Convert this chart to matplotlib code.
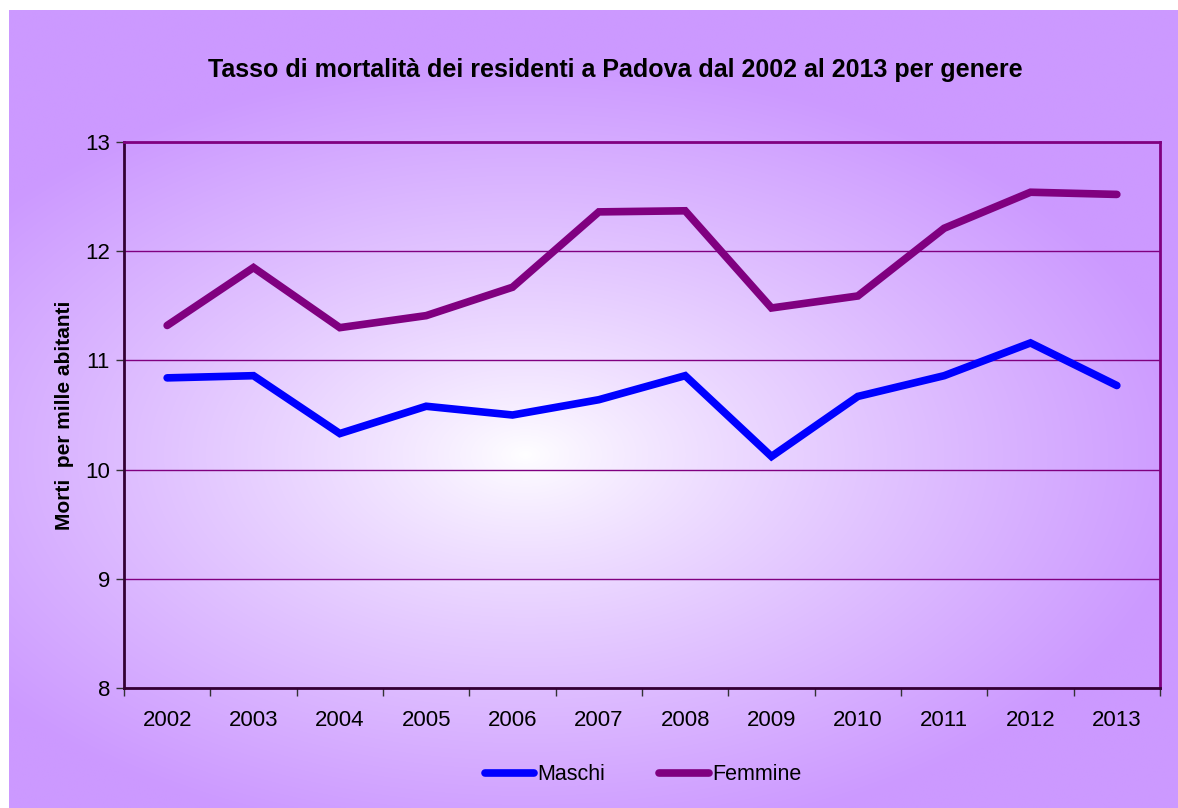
import numpy as np
import matplotlib.pyplot as plt
from matplotlib.lines import Line2D

years = ['2002', '2003', '2004', '2005', '2006', '2007',
         '2008', '2009', '2010', '2011', '2012', '2013']
maschi = [10.84, 10.86, 10.33, 10.58, 10.50, 10.64,
          10.86, 10.12, 10.67, 10.86, 11.16, 10.77]
femmine = [11.32, 11.85, 11.30, 11.41, 11.67, 12.36,
           12.37, 11.48, 11.59, 12.21, 12.54, 12.52]

plt.rcParams['font.family'] = ['Liberation Sans', 'DejaVu Sans']

W, H = 1178, 808
fig = plt.figure(figsize=(W / 100, H / 100), dpi=100)
fig.patch.set_facecolor('white')

# gradient background of the chart area
bg = fig.add_axes([9 / W, 0, 1 - 9 / W, 1 - 10 / H])
yy, xx = np.mgrid[0:H, 0:W]
cx, cy = 520, 450
d = np.sqrt(((xx - cx) / 680.0) ** 2 + ((yy - cy) / 400.0) ** 2)
d = np.clip(d, 0, 1) ** 0.85
inner = np.array([255, 255, 255]) / 255.0
outer = np.array([204, 153, 255]) / 255.0
img = inner[None, None, :] * (1 - d[..., None]) + outer[None, None, :] * d[..., None]
bg.imshow(img, aspect='auto', extent=[0, W, H, 0])
bg.axis('off')

# plot area
x0, x1, y0, y1 = 124, 1160, 142, 688
ax = fig.add_axes([x0 / W, 1 - y1 / H, (x1 - x0) / W, (y1 - y0) / H])
ax.patch.set_alpha(0)

x = np.arange(len(years))
ax.plot(x, maschi, color='#0000FF', lw=5.5, solid_capstyle='round', solid_joinstyle='miter')
ax.plot(x, femmine, color='#800080', lw=5.5, solid_capstyle='round', solid_joinstyle='miter')

ax.set_xlim(-0.5, len(years) - 0.5)
ax.set_ylim(8, 13)
ax.set_yticks([8, 9, 10, 11, 12, 13])
ax.set_xticks(x)
ax.set_xticklabels(years)
ax.set_xticks(np.arange(-0.5, len(years)), minor=True)
ax.tick_params(axis='x', which='major', length=0, pad=16, labelsize=16)
ax.tick_params(axis='x', which='minor', length=6, width=1, color='#333333', direction='out')
ax.tick_params(axis='y', length=6, width=1, color='#333333', labelsize=16, pad=4)
ax.grid(axis='y', color='#800080', lw=1)

for s in ['left', 'bottom']:
    ax.spines[s].set_color('#330033')
    ax.spines[s].set_linewidth(2)
for s in ['top', 'right']:
    ax.spines[s].set_color('#800080')
    ax.spines[s].set_linewidth(2)

ax.set_ylabel('Morti  per mille abitanti', fontsize=15, fontweight='bold', labelpad=8)

fig.text(615 / W, 1 - 70 / H, 'Tasso di mortalità dei residenti a Padova dal 2002 al 2013 per genere',
         ha='center', va='center', fontsize=18, fontweight='bold')

handles = [Line2D([], [], color='#0000FF', lw=5.5, solid_capstyle='round'),
           Line2D([], [], color='#800080', lw=5.5, solid_capstyle='round')]
fig.legend(handles, ['Maschi', 'Femmine'], loc='center', bbox_to_anchor=(643 / W, 1 - 775 / H),
           ncol=2, frameon=False, fontsize=15.5, handlelength=2.3, handletextpad=0.15, columnspacing=2.5)

fig.savefig('out.png', dpi=100)
